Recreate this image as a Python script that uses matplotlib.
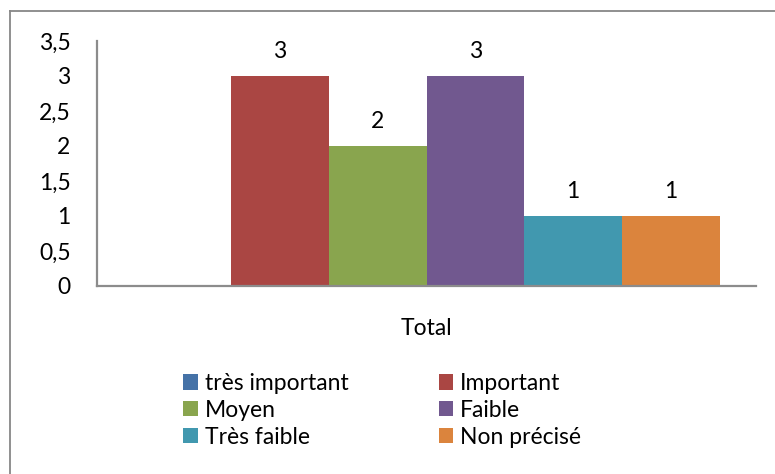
import matplotlib
matplotlib.use("Agg")
import matplotlib.pyplot as plt
from matplotlib.patches import Patch
from matplotlib.lines import Line2D

plt.rcParams['font.family'] = ['Lato', 'DejaVu Sans']

category = "Total"
series = ["très important", "Important", "Moyen", "Faible", "Très faible", "Non précisé"]
values = [None, 3, 2, 3, 1, 1]
colors = ["#4572A7", "#AA4643", "#89A54E", "#71588F", "#4198AF", "#DB843D"]
yticks = [0, 0.5, 1, 1.5, 2, 2.5, 3, 3.5]
ytick_labels = ["0", "0,5", "1", "1,5", "2", "2,5", "3", "3,5"]

FS = 16.5
W, H = 775, 474
fig = plt.figure(figsize=(W / 100, H / 100), dpi=100)
fig.patch.set_facecolor("white")

# chart-area frame (left and top edges visible)
frame_col = "#878787"
fig.add_artist(Line2D([9.5 / W, 9.5 / W], [0, 1 - 11 / H], transform=fig.transFigure,
                      color=frame_col, lw=1.3))
fig.add_artist(Line2D([9.5 / W, 1.0], [1 - 11 / H, 1 - 11 / H], transform=fig.transFigure,
                      color=frame_col, lw=1.3))

ax = fig.add_axes([97 / W, (H - 286) / H, (756 - 97) / W, (286 - 41) / H])

n = len(series)
bw = 97.8 / 659
handles = []
for i, (name, v, c) in enumerate(zip(series, values, colors)):
    x = (i - (n - 1) / 2) * bw
    h = 0 if v is None else v
    ax.bar(x, h, width=bw, color=c, edgecolor="none", zorder=2)
    if v is not None:
        ax.annotate(f"{v:g}", (x, h), xytext=(0, 13), textcoords="offset points",
                    ha="center", va="baseline", fontsize=FS, color="black")
    handles.append(Patch(facecolor=c, edgecolor="none", label=name))

ax.set_xlim(-0.5, 0.5)
ax.set_ylim(0, 3.5)
ax.set_yticks(yticks)
ax.set_yticklabels(ytick_labels)
ax.set_xticks([0])
ax.set_xticklabels([category])
ax.tick_params(axis="y", length=0, pad=19, labelsize=FS)
ax.tick_params(axis="x", length=0, pad=23, labelsize=FS)
for s in ["top", "right"]:
    ax.spines[s].set_visible(False)
for s in ["left", "bottom"]:
    ax.spines[s].set_color("#8C8C8C")
    ax.spines[s].set_linewidth(1.6)

order = [0, 2, 4, 1, 3, 5]
leg = fig.legend([handles[k] for k in order], [series[k] for k in order],
                 ncol=2, loc="upper left", bbox_to_anchor=(183 / W, 1 - 373 / H),
                 frameon=False, fontsize=FS, handlelength=0.64, handleheight=0.64,
                 handletextpad=0.3, labelspacing=0.26, columnspacing=3.95,
                 borderpad=0, borderaxespad=0)

fig.savefig("out.png", dpi=100, facecolor="white")
